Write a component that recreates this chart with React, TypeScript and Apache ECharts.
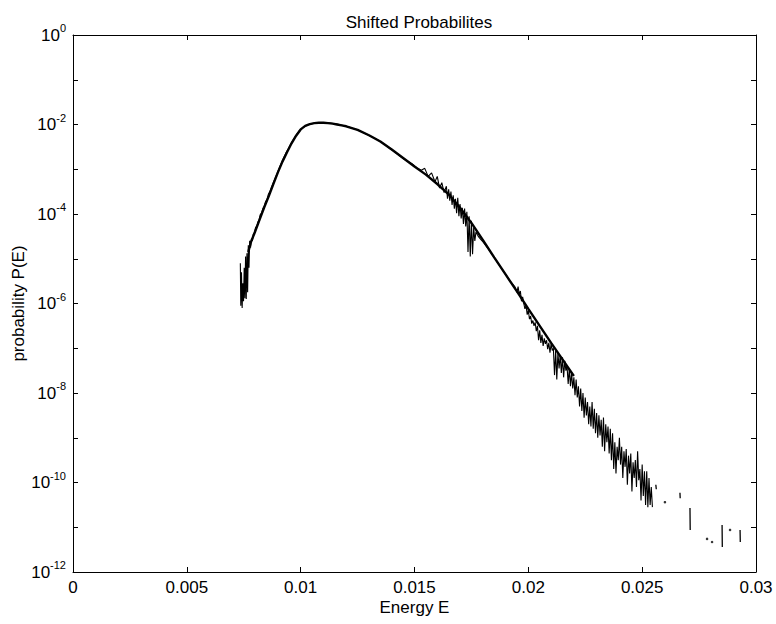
import React, { useEffect, useRef } from "react";
import * as echarts from "echarts";

// Axis tick labels
const xTickValues = [0, 0.005, 0.01, 0.015, 0.02, 0.025, 0.03];
const yLabelExponents = [0, -2, -4, -6, -8, -10, -12];

// Smooth fitted curve: energy and log10 of probability
const fitEnergy = [
  0.0077, 0.0078, 0.008, 0.0082, 0.0084, 0.0086, 0.0088, 0.009, 0.0092, 0.0094,
  0.0096, 0.0098, 0.01, 0.0102, 0.0104, 0.0106, 0.0108, 0.011, 0.0112, 0.0114,
  0.0116, 0.0118, 0.012, 0.0125, 0.013, 0.0135, 0.014, 0.0145, 0.015, 0.0155,
  0.016, 0.0165, 0.017, 0.0175, 0.018, 0.0185, 0.019, 0.0195, 0.02, 0.0205,
  0.021, 0.0215, 0.022,
];
const fitLog10P = [
  -4.85, -4.65, -4.39, -4.12, -3.85, -3.6, -3.33, -3.07, -2.83, -2.62,
  -2.42, -2.25, -2.11, -2.03, -1.99, -1.97, -1.96, -1.96, -1.97, -1.98,
  -2.0, -2.02, -2.04, -2.12, -2.24, -2.38, -2.56, -2.75, -2.94, -3.12,
  -3.33, -3.56, -3.86, -4.2, -4.58, -4.97, -5.35, -5.73, -6.12, -6.5,
  -6.88, -7.25, -7.62,
];

// Measured (noisy) probabilities: energy and log10 of probability
const dataEnergy = [
  0.00735, 0.00737, 0.0074, 0.00743, 0.00746, 0.00749, 0.00752, 0.00755, 0.00758, 0.00761,
  0.00764, 0.00767, 0.0077, 0.00773, 0.00776, 0.0078, 0.00784, 0.00788, 0.00792, 0.00797,
  0.00802, 0.00807, 0.00812, 0.00817, 0.00822, 0.00828, 0.00834, 0.0084, 0.00846, 0.00852,
  0.00858, 0.00865, 0.00872, 0.0088, 0.00888, 0.00896, 0.00905, 0.00915, 0.00925, 0.00935,
  0.00945, 0.00955, 0.00965, 0.00975, 0.00985, 0.00995, 0.0101, 0.0103, 0.0105, 0.0107,
  0.0109, 0.0111, 0.0113, 0.0115, 0.0117, 0.0119, 0.0121, 0.0123, 0.0125, 0.0127,
  0.0129, 0.0131, 0.0133, 0.0135, 0.0137, 0.0139, 0.0141, 0.0143, 0.0145, 0.0147,
  0.0149, 0.0151, 0.0153, 0.01545, 0.0156, 0.01575, 0.0159, 0.016, 0.0161, 0.0162,
  0.0163, 0.0164, 0.01645, 0.0165, 0.01655, 0.0166, 0.01665, 0.0167, 0.01675, 0.0168,
  0.01685, 0.0169, 0.01695, 0.017, 0.01705, 0.0171, 0.01715, 0.0172, 0.01725, 0.0173,
  0.01735, 0.0174, 0.01745, 0.0175, 0.01755, 0.0176, 0.01765, 0.0177, 0.0178, 0.0179,
  0.018, 0.0182, 0.0184, 0.0186, 0.0188, 0.019, 0.0192, 0.0194, 0.0195, 0.01955,
  0.0196, 0.01965, 0.0197, 0.01975, 0.0198, 0.01985, 0.0199, 0.01995, 0.02, 0.02005,
  0.0201, 0.02015, 0.0202, 0.02025, 0.0203, 0.02035, 0.0204, 0.02045, 0.0205, 0.02055,
  0.0206, 0.02065, 0.0207, 0.02075, 0.0208, 0.02085, 0.0209, 0.02095, 0.021, 0.02105,
  0.0211, 0.02115, 0.0212, 0.02125, 0.0213, 0.02135, 0.0214, 0.02145, 0.0215, 0.02155,
  0.0216, 0.02165, 0.0217, 0.02175, 0.0218, 0.02185, 0.0219, 0.02195, 0.022, 0.02205,
  0.0221, 0.02215, 0.0222, 0.02225, 0.0223, 0.02235, 0.0224, 0.02245, 0.0225, 0.02255,
  0.0226, 0.02265, 0.0227, 0.02275, 0.0228, 0.02285, 0.0229, 0.02295, 0.023, 0.02305,
  0.0231, 0.02315, 0.0232, 0.02325, 0.0233, 0.02335, 0.0234, 0.02345, 0.0235, 0.02355,
  0.0236, 0.02365, 0.0237, 0.02375, 0.0238, 0.02385, 0.0239, 0.02395, 0.024, 0.02405,
  0.0241, 0.02415, 0.0242, 0.02425, 0.0243, 0.02435, 0.0244, 0.02445, 0.0245, 0.02455,
  0.0246, 0.02465, 0.0247, 0.02475, 0.0248, 0.02485, 0.0249, 0.02495, 0.025, 0.02505,
  0.0251, 0.02515, 0.0252, 0.02525, 0.0253, 0.02535, 0.0254, 0.02545,
];
const dataLog10P = [
  -5.1, -6.05, -5.3, -6.1, -5.55, -5.95, -5.2, -5.88, -4.95, -5.9,
  -4.88, -5.75, -4.7, -5.2, -4.6, -4.75, -4.55, -4.6, -4.45, -4.42,
  -4.3, -4.28, -4.18, -4.14, -4.02, -3.98, -3.88, -3.83, -3.72, -3.68,
  -3.56, -3.5, -3.4, -3.3, -3.2, -3.1, -2.98, -2.86, -2.75, -2.64,
  -2.55, -2.45, -2.36, -2.28, -2.2, -2.13, -2.07, -2.01, -1.98, -1.965,
  -1.96, -1.96, -1.97, -1.985, -2.0, -2.03, -2.05, -2.09, -2.12, -2.17,
  -2.22, -2.27, -2.32, -2.38, -2.45, -2.53, -2.6, -2.68, -2.76, -2.82,
  -2.88, -2.97, -3.02, -2.98, -3.16, -3.08, -3.28, -3.16, -3.42, -3.3,
  -3.52, -3.38, -3.66, -3.45, -3.7, -3.5, -3.8, -3.58, -3.88, -3.66,
  -3.98, -3.64, -4.05, -3.78, -4.1, -3.86, -4.22, -3.88, -4.28, -3.95,
  -4.85, -4.05, -4.95, -4.15, -4.9, -4.3, -4.6, -4.4, -4.5, -4.56,
  -4.62, -4.75, -4.9, -5.05, -5.2, -5.35, -5.5, -5.62, -5.75, -5.62,
  -5.8, -5.72, -5.95, -5.85, -6.0, -6.12, -6.05, -6.25, -6.15, -6.35,
  -6.28, -6.45, -6.38, -6.5, -6.42, -6.62, -6.5, -6.82, -6.6, -6.88,
  -6.7, -6.95, -6.78, -6.9, -6.82, -7.02, -6.88, -7.1, -6.9, -7.05,
  -7.0, -7.6, -7.05, -7.7, -7.1, -7.45, -7.15, -7.55, -7.2, -7.65,
  -7.28, -7.5, -7.4, -7.8, -7.45, -7.85, -7.55, -7.9, -7.65, -8.05,
  -7.7, -8.1, -7.85, -8.3, -7.9, -8.4, -8.0, -8.55, -8.1, -8.5,
  -8.2, -8.7, -8.3, -8.75, -8.2, -8.8, -8.35, -8.9, -8.45, -9.0,
  -8.5, -8.95, -8.6, -9.2, -8.55, -9.3, -8.7, -9.1, -8.75, -9.35,
  -8.8, -9.5, -8.9, -9.7, -9.1, -9.8, -9.2, -9.5, -9.0, -9.6,
  -9.2, -9.9, -9.3, -9.65, -9.25, -10.05, -9.4, -9.8, -9.35, -10.2,
  -9.55, -9.9, -9.5, -10.1, -9.3, -9.95, -9.7, -10.4, -9.6, -10.3,
  -9.75, -10.5, -9.75, -10.55, -9.9, -10.5, -10.1, -10.55,
];

// Isolated tail segments (null = gap)
const tailEnergy = [
  0.0256, 0.02562, 0.0263, 0.02666, 0.02667, 0.0269, 0.0271, 0.02711, 0.0280,
  0.02851, 0.02852, 0.0290, 0.0293, 0.02931,
];
const tailLog10P = [
  -10.05, -10.15, null, -10.23, -10.35, null, -10.57, -11.06, null,
  -10.95, -11.44, null, -11.06, -11.33,
];

// Isolated single points
const dotEnergy = [0.026, 0.02785, 0.02807, 0.02886];
const dotLog10P = [-10.44, -11.26, -11.33, -11.06];

const FONT = "'Liberation Sans', Arial, Helvetica, sans-serif";

function pairs(es: number[], ls: (number | null)[]) {
  return es.map((e, i) => {
    const l = ls[i];
    return l === null ? [e, "-"] : [e, Math.pow(10, l)];
  });
}

export default function App() {
  const ref = useRef<HTMLDivElement>(null);

  useEffect(() => {
    if (!ref.current) return;
    const chart = echarts.init(ref.current, undefined, { renderer: "svg" });

    const axisLineStyle = { color: "#000", width: 1 };
    const tick = { show: true, inside: true, length: 5, lineStyle: { color: "#000", width: 1 } };

    const xLabelFormatter = (v: number) => {
      let best = xTickValues[0];
      for (const t of xTickValues) if (Math.abs(t - v) < Math.abs(best - v)) best = t;
      return String(best);
    };
    const yLabelFormatter = (v: number) => {
      const exp = Math.round(Math.log10(v));
      if (yLabelExponents.indexOf(exp) < 0) return "";
      return `{b|10}{s|${exp}}`;
    };

    chart.setOption({
      animation: false,
      backgroundColor: "#fff",
      textStyle: { fontFamily: FONT },
      title: {
        text: "Shifted Probabilites",
        left: 414,
        top: 9,
        textAlign: "center",
        textStyle: { fontFamily: FONT, fontSize: 17, fontWeight: "normal", color: "#000" },
      },
      grid: { left: 73, right: 20, top: 35, bottom: 52, containLabel: false, outerBoundsMode: "none" },
      xAxis: [
        {
          type: "value",
          position: "bottom",
          min: 0,
          max: 0.03,
          interval: 0.005,
          axisLine: { show: true, onZero: false, lineStyle: axisLineStyle },
          axisTick: tick,
          splitLine: { show: false },
          axisLabel: { color: "#000", fontSize: 17, fontFamily: FONT, margin: 7, formatter: xLabelFormatter },
          name: "Energy E",
          nameLocation: "middle",
          nameGap: 27,
          nameMoveOverlap: false,
          nameTextStyle: { color: "#000", fontSize: 17, fontFamily: FONT },
        },
        {
          type: "value",
          position: "top",
          min: 0,
          max: 0.03,
          interval: 0.005,
          axisLine: { show: true, onZero: false, lineStyle: axisLineStyle },
          axisTick: tick,
          splitLine: { show: false },
          axisLabel: { show: false },
        },
      ],
      yAxis: [
        {
          type: "log",
          logBase: 10,
          position: "left",
          min: 1e-12,
          max: 1,
          interval: 1,
          splitNumber: 12,
          axisLine: { show: true, onZero: false, lineStyle: axisLineStyle },
          axisTick: tick,
          splitLine: { show: false },
          axisLabel: {
            color: "#000",
            margin: 7,
            formatter: yLabelFormatter,
            showMinLabel: true,
            showMaxLabel: true,
            rich: {
              b: { fontSize: 17, fontFamily: FONT, color: "#000" },
              s: { fontSize: 11, fontFamily: FONT, color: "#000", padding: [0, 0, 14, 0] },
            },
          },
          name: "probability P(E)",
          nameLocation: "middle",
          nameGap: 46,
          nameMoveOverlap: false,
          nameTextStyle: { color: "#000", fontSize: 17, fontFamily: FONT },
        },
        {
          type: "log",
          logBase: 10,
          position: "right",
          min: 1e-12,
          max: 1,
          interval: 1,
          splitNumber: 12,
          axisLine: { show: true, onZero: false, lineStyle: axisLineStyle },
          axisTick: tick,
          splitLine: { show: false },
          axisLabel: { show: false },
        },
      ],
      series: [
        {
          type: "line",
          name: "data",
          data: pairs(dataEnergy, dataLog10P),
          showSymbol: false,
          symbol: "none",
          lineStyle: { color: "#000", width: 1.1 },
          z: 2,
        },
        {
          type: "line",
          name: "fit",
          data: pairs(fitEnergy, fitLog10P),
          showSymbol: false,
          symbol: "none",
          smooth: false,
          lineStyle: { color: "#000", width: 2.4 },
          z: 3,
        },
        {
          type: "line",
          name: "tail",
          data: pairs(tailEnergy, tailLog10P),
          showSymbol: false,
          symbol: "none",
          connectNulls: false,
          lineStyle: { color: "#000", width: 1.3 },
          z: 2,
        },
        {
          type: "scatter",
          name: "dots",
          data: pairs(dotEnergy, dotLog10P),
          symbolSize: 2.5,
          itemStyle: { color: "#000" },
          z: 2,
        },
      ],
    });

    return () => chart.dispose();
  }, []);

  return (
    <div
      ref={ref}
      style={{ position: "absolute", left: 0, top: 0, width: 776, height: 624, background: "#fff" }}
    />
  );
}
